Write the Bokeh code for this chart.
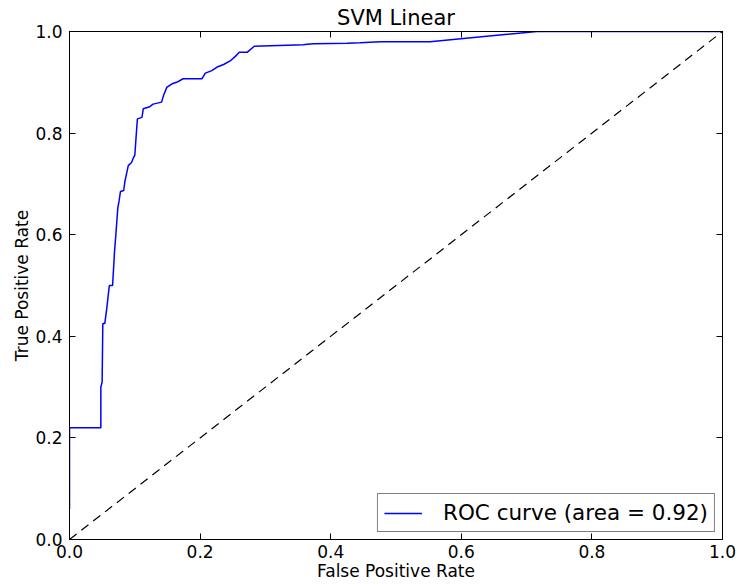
from bokeh.plotting import figure
from bokeh.models import Range1d, LinearAxis, FixedTicker, Legend, LegendItem
from bokeh.embed import file_html
from bokeh.resources import INLINE

# ROC curve vertices
fpr = [0.0, 0.0, 0.048, 0.048, 0.050, 0.051, 0.054, 0.057, 0.061, 0.066, 0.069,
       0.071, 0.074, 0.076, 0.078, 0.083, 0.085, 0.090, 0.095, 0.098, 0.100,
       0.103, 0.104, 0.111, 0.113, 0.123, 0.128, 0.141, 0.144, 0.149, 0.157,
       0.164, 0.174, 0.203, 0.208, 0.218, 0.226, 0.236, 0.246, 0.254, 0.260,
       0.272, 0.283, 0.358, 0.364, 0.374, 0.425, 0.445, 0.476, 0.552, 0.716, 1.0]
tpr = [0.06, 0.22, 0.22, 0.30, 0.31, 0.425, 0.425, 0.454, 0.50, 0.50, 0.568,
       0.60, 0.653, 0.667, 0.685, 0.687, 0.706, 0.736, 0.742, 0.752, 0.756,
       0.811, 0.828, 0.831, 0.848, 0.852, 0.857, 0.861, 0.874, 0.890, 0.897,
       0.900, 0.907, 0.907, 0.918, 0.923, 0.930, 0.935, 0.942, 0.951, 0.959,
       0.959, 0.971, 0.974, 0.975, 0.976, 0.977, 0.978, 0.980, 0.980, 1.0, 1.0]
chance_x = [0.0, 1.0]
chance_y = [0.0, 1.0]
tick_vals = [0.0, 0.2, 0.4, 0.6, 0.8, 1.0]
tick_labels = ["0.0", "0.2", "0.4", "0.6", "0.8", "1.0"]
title_text = "SVM Linear"
x_label = "False Positive Rate"
y_label = "True Positive Rate"
legend_label = "ROC curve (area = 0.92)"

FONT = "DejaVu Sans"

p = figure(width=740, height=585, output_backend="svg", toolbar_location=None,
           x_range=Range1d(0, 1), y_range=Range1d(0, 1),
           min_border_left=69, min_border_right=18, min_border_top=31,
           min_border_bottom=46, title=title_text)
p.background_fill_color = "white"
p.border_fill_color = "white"
p.outline_line_color = "black"
p.outline_line_width = 1
p.grid.visible = False

p.title.align = "center"
p.title.text_font = FONT
p.title.text_font_size = "21px"
p.title.text_font_style = "normal"
p.title.text_color = "black"
p.title.standoff = 3
p.title.offset = 0

ticker = FixedTicker(ticks=tick_vals)
overrides = {v: l for v, l in zip(tick_vals, tick_labels)}

for ax in (p.xaxis[0], p.yaxis[0]):
    ax.ticker = ticker
    ax.major_label_overrides = overrides
    ax.major_tick_in = 6
    ax.major_tick_out = 0
    ax.minor_tick_line_color = None
    ax.major_label_text_font = FONT
    ax.major_label_text_font_size = "17px"
    ax.major_label_text_color = "black"
    ax.axis_label_text_font = FONT
    ax.axis_label_text_font_size = "17px"
    ax.axis_label_text_font_style = "normal"
    ax.axis_label_text_color = "black"
    ax.axis_line_color = "black"
    ax.major_tick_line_color = "black"

p.xaxis[0].axis_label = x_label
p.yaxis[0].axis_label = y_label
p.xaxis[0].major_label_standoff = 5
p.xaxis[0].axis_label_standoff = 0
p.yaxis[0].major_label_standoff = 7
p.yaxis[0].axis_label_standoff = 0

for loc in ("above", "right"):
    ax = LinearAxis(ticker=FixedTicker(ticks=tick_vals))
    ax.major_tick_in = 6
    ax.major_tick_out = 0
    ax.minor_tick_line_color = None
    ax.major_label_text_font_size = "1px"
    ax.major_label_text_color = None
    ax.major_label_standoff = 0
    ax.axis_line_color = "black"
    ax.major_tick_line_color = "black"
    p.add_layout(ax, loc)

p.line(chance_x, chance_y, line_color="black", line_width=1.2, line_dash="9 6")
roc = p.line(fpr, tpr, line_color="#0000ff", line_width=1.5)

legend = Legend(items=[LegendItem(label=legend_label, renderers=[roc])],
                location="bottom_right")
legend.label_text_font = FONT
legend.label_text_font_size = "21.5px"
legend.label_text_color = "black"
legend.border_line_color = "black"
legend.border_line_width = 1
legend.background_fill_color = "white"
legend.background_fill_alpha = 1.0
legend.padding = 6
legend.margin = 7
legend.spacing = 0
legend.glyph_width = 38
legend.glyph_height = 16
legend.label_height = 16
legend.label_standoff = 21
p.add_layout(legend, "center")

open("out.html", "w").write(file_html(p, INLINE))
